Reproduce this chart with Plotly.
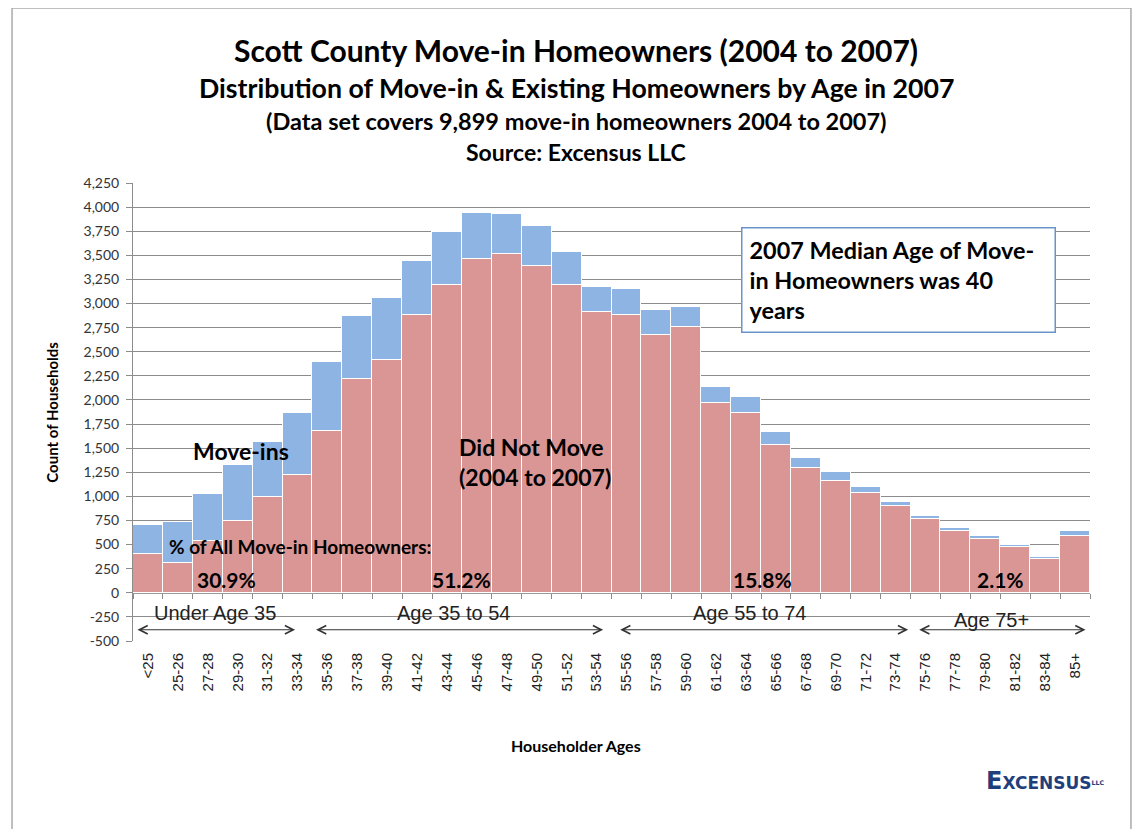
import plotly.graph_objects as go

# age groups and household counts
ages = ["<25", "25-26", "27-28", "29-30", "31-32", "33-34",
        "35-36", "37-38", "39-40", "41-42", "43-44", "45-46", "47-48", "49-50", "51-52", "53-54",
        "55-56", "57-58", "59-60", "61-62", "63-64", "65-66", "67-68", "69-70", "71-72", "73-74",
        "75-76", "77-78", "79-80", "81-82", "83-84", "85+"]
did_not_move = [404, 308, 542, 746, 998, 1223,
                1683, 2218, 2415, 2882, 3193, 3462, 3514, 3390, 3193, 2909,
                2882, 2674, 2754, 1966, 1863, 1530, 1292, 1161, 1040, 895,
                767, 643, 560, 470, 352, 584]
move_ins = [301, 431, 481, 581, 570, 640,
            715, 657, 646, 559, 544, 480, 415, 414, 345, 260,
            266, 259, 207, 166, 165, 139, 104, 96, 62, 51,
            34, 34, 34, 28, 18, 52]

y_ticks = list(range(-500, 4251, 250))
y_tick_labels = ["-500", "-250", "0", "250", "500", "750", "1,000", "1,250", "1,500", "1,750",
                 "2,000", "2,250", "2,500", "2,750", "3,000", "3,250", "3,500", "3,750",
                 "4,000", "4,250"]

group_names = ["Under Age 35", "Age 35 to 54", "Age 55 to 74", "Age 75+"]
group_shares = ["30.9%", "51.2%", "15.8%", "2.1%"]

titles = ["Scott County Move-in Homeowners (2004 to 2007)",
          "Distribution of Move-in & Existing Homeowners by Age in 2007",
          "(Data set covers 9,899 move-in homeowners 2004 to 2007)",
          "Source: Excensus LLC"]

CAL = "Lato"
ARIAL = "Liberation Sans"
BLUE = "#8EB4E3"
RED = "#D99694"
GRID = "#8C8C8C"

fig = go.Figure()
fig.add_trace(go.Bar(x=ages, y=did_not_move, name="Did Not Move",
                     marker=dict(color=RED, line=dict(color="white", width=1.5))))
fig.add_trace(go.Bar(x=ages, y=move_ins, name="Move-ins",
                     marker=dict(color=BLUE, line=dict(color="white", width=1.5))))
# invisible trace so the tick-mark axis along the zero line gets drawn
fig.add_trace(go.Scatter(x=ages, y=[0] * len(ages), xaxis="x2", mode="none",
                         showlegend=False, hoverinfo="skip"))

# page body adds an 8px offset, so margins are shifted to compensate
fig.update_layout(
    width=1143, height=829,
    margin=dict(l=125, r=61, t=175, b=196),
    barmode="stack", bargap=0,
    showlegend=False,
    plot_bgcolor="white", paper_bgcolor="white",
    xaxis=dict(type="category", categoryarray=ages, range=[-0.5, 31.5],
               tickangle=-90, ticks="", showgrid=False,
               tickfont=dict(family=ARIAL, size=15, color="#222"),
               ticklabelstandoff=8),
    xaxis2=dict(type="category", overlaying="x", matches="x", anchor="free",
                position=500 / 4750, side="bottom", ticks="outside", tickson="boundaries",
                ticklen=5, tickcolor=GRID, showticklabels=False, showgrid=False,
                showline=False),
    yaxis=dict(range=[-500, 4250], tickvals=y_ticks, ticktext=y_tick_labels,
               showgrid=True, gridcolor=GRID, gridwidth=1,
               zeroline=True, zerolinecolor="#999", zerolinewidth=3,
               showline=True, linecolor=GRID, linewidth=1,
               ticks="outside", ticklen=6, tickcolor=GRID, ticklabelstandoff=4,
               tickfont=dict(family=CAL, size=14, color="#333")),
)

ann = []
# titles
for txt, yy, sz in zip(titles, [1.290, 1.207, 1.135, 1.068], [30, 26.7, 23.5, 23]):
    ann.append(dict(text="<b>" + txt + "</b>", xref="paper", yref="paper", x=0.463, y=yy,
                    xanchor="center", yanchor="middle", showarrow=False,
                    font=dict(family=CAL, size=sz, color="black")))

ann.append(dict(text="<b>Count of Households</b>", xref="paper", yref="paper",
                x=-0.085, y=0.5, xanchor="center", yanchor="middle", textangle=-90,
                showarrow=False, font=dict(family=CAL, size=15, color="black")))
ann.append(dict(text="<b>Householder Ages</b>", xref="paper", yref="paper",
                x=0.463, y=-0.229, xanchor="center", yanchor="middle", showarrow=False,
                font=dict(family=CAL, size=16, color="black")))

# in-plot labels
ann.append(dict(text="<b>Move-ins</b>", x=3.1, y=1472, showarrow=False,
                font=dict(family=CAL, size=23, color="black")))
ann.append(dict(text="<b>Did Not Move<br>(2004 to 2007)</b>", x=10.35, y=1358,
                xanchor="left", align="left", showarrow=False,
                font=dict(family=CAL, size=23, color="black")))
ann.append(dict(text="<b>% of All Move-in Homeowners:</b>", x=0.62, y=477,
                xanchor="left", showarrow=False,
                font=dict(family=CAL, size=19, color="black")))

share_x = [2.61, 10.5, 20.54, 28.5]
label_x = [2.24, 10.2, 20.1, 28.2]
label_y = [-207, -207, -207, -280]
arrows = [(-0.45, 4.92), (5.52, 15.22), (15.69, 25.42), (25.69, 31.35)]
for i in range(4):
    ann.append(dict(text="<b>" + group_shares[i] + "</b>", x=share_x[i], y=135,
                    showarrow=False, font=dict(family=CAL, size=21, color="black")))
    ann.append(dict(text=group_names[i], x=label_x[i], y=label_y[i], showarrow=False,
                    font=dict(family=ARIAL, size=20, color="#222")))
    a0, a1 = arrows[i]
    ann.append(dict(text=" ", x=a1, y=-383, ax=a0, ay=-383, axref="x", ayref="y",
                    showarrow=True, arrowhead=5, arrowside="end+start",
                    arrowsize=1.5, arrowwidth=1.1, arrowcolor="#333"))

# median age callout
ann.append(dict(text="<b>2007 Median Age of Move-<br>in Homeowners was 40<br>years</b>",
                x=25.08, y=3244, xanchor="center", yanchor="middle",
                width=298, height=89, align="left", valign="middle",
                bgcolor="white", bordercolor="#6A94C8", borderwidth=1.5, borderpad=7,
                showarrow=False, font=dict(family=CAL, size=23.4, color="black")))

# logo
ann.append(dict(text="<b>E<span style='font-size:17px'>XCENSUS</span>"
                     "<span style='font-size:9px'><sup>LLC</sup></span></b>",
                xref="paper", yref="paper", x=0.889, y=-0.306,
                xanchor="left", yanchor="middle", showarrow=False,
                font=dict(family="DejaVu Sans", size=24, color="#1F3E7C")))

fig.update_layout(annotations=ann)

# chart frame
fig.add_shape(type="rect", xref="paper", yref="paper",
              x0=-0.1264, x1=1.0428, y0=-0.43, y1=1.382,
              line=dict(color="#AAAAAA", width=1.5), layer="below")

fig.write_html("out.html")
